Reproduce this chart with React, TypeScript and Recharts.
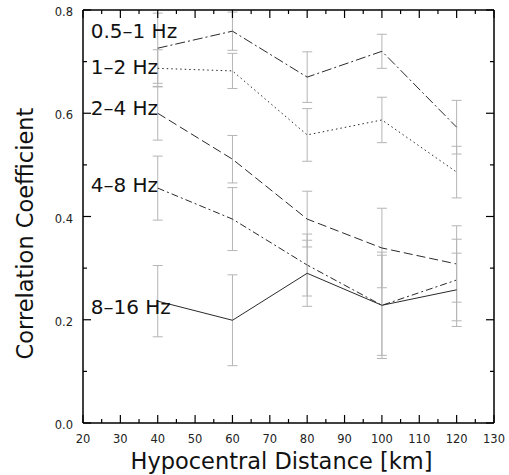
import { LineChart, Line, XAxis, YAxis, ErrorBar, LabelList } from "recharts";

// distances [km] of the five station groups
const distances = [40, 60, 80, 100, 120];

const bandNames = ["0.5–1 Hz", "1–2 Hz", "2–4 Hz", "4–8 Hz", "8–16 Hz"];

// correlation coefficient per band, and its +/- error
const band05to1 = [0.726, 0.759, 0.67, 0.72, 0.573];
const band05to1Err = [0.068, 0.037, 0.049, 0.033, 0.052];
const band1to2 = [0.687, 0.682, 0.558, 0.587, 0.486];
const band1to2Err = [0.036, 0.034, 0.051, 0.044, 0.05];
const band2to4 = [0.6, 0.511, 0.395, 0.339, 0.308];
const band2to4Err = [0.052, 0.046, 0.054, 0.077, 0.074];
const band4to8 = [0.455, 0.395, 0.306, 0.228, 0.277];
const band4to8Err = [0.062, 0.061, 0.06, 0.097, 0.079];
const band8to16 = [0.236, 0.199, 0.29, 0.228, 0.258];
const band8to16Err = [0.069, 0.088, 0.064, 0.103, 0.071];

const xTicks = [20, 25, 30, 35, 40, 45, 50, 55, 60, 65, 70, 75, 80, 85, 90, 95, 100, 105, 110, 115, 120, 125, 130];
const yTicks = [0, 0.1, 0.2, 0.3, 0.4, 0.5, 0.6, 0.7, 0.8];

const values = [band05to1, band1to2, band2to4, band4to8, band8to16];
const errors = [band05to1Err, band1to2Err, band2to4Err, band4to8Err, band8to16Err];

// line look per band (dash pattern, label nudge from first point)
const bandStyles = [
  { dash: "10 3 2 3", labelDy: -10 },
  { dash: "1.5 3", labelDy: 6 },
  { dash: "9 4", labelDy: 2 },
  { dash: "7 3 2 3", labelDy: 4 },
  { dash: undefined, labelDy: 13 },
];

const data = distances.map((d, i) => {
  const row: Record<string, number> = { x: d };
  values.forEach((v, s) => {
    row[`v${s}`] = v[i];
    row[`e${s}`] = errors[s][i];
  });
  return row;
});

const FONT = "DejaVu Sans";
const TICK = "#000";
const frame = { stroke: "#000", strokeWidth: 1.5 };

const isMajorX = (v: number) => v % 10 === 0;
const isMajorY = (v: number) => Math.round(v * 10) % 2 === 0;

// ticks point into the plot on all four sides
function BottomTick({ x, y, payload }: any) {
  const major = isMajorX(payload.value);
  return (
    <g>
      <line x1={x} y1={y} x2={x} y2={y - (major ? 8 : 4)} stroke={TICK} strokeWidth={1.2} />
      {major && (
        <text x={x} y={y + 20} textAnchor="middle" fontSize={11.5} fontFamily={FONT} fill="#222">
          {payload.value}
        </text>
      )}
    </g>
  );
}

function TopTick({ x, y, payload }: any) {
  const major = isMajorX(payload.value);
  return (
    <g>
      <line x1={x} y1={y} x2={x} y2={y + (major ? 8 : 4)} stroke={TICK} strokeWidth={1.2} />
    </g>
  );
}

function LeftTick({ x, y, payload }: any) {
  const major = isMajorY(payload.value);
  return (
    <g>
      <line x1={x} y1={y} x2={x + (major ? 8 : 4)} y2={y} stroke={TICK} strokeWidth={1.2} />
      {major && (
        <text x={x - 10} y={y + 6} textAnchor="end" fontSize={11.5} fontFamily={FONT} fill="#222">
          {payload.value.toFixed(1)}
        </text>
      )}
    </g>
  );
}

function RightTick({ x, y, payload }: any) {
  const major = isMajorY(payload.value);
  return (
    <g>
      <line x1={x} y1={y} x2={x - (major ? 8 : 4)} y2={y} stroke={TICK} strokeWidth={1.2} />
    </g>
  );
}

const bandLabel = (s: number) => (props: any) => {
  if (props.index !== 0) return null;
  return (
    <text
      x={props.x - 67}
      y={props.y + bandStyles[s].labelDy}
      fontSize={20}
      fontFamily={FONT}
      fill="#111"
    >
      {bandNames[s]}
    </text>
  );
};

export default function App() {
  return (
    <div style={{ position: "absolute", left: 0, top: 0 }}>
      <LineChart width={509} height={475} data={data} margin={{ top: 0, right: 0, bottom: 0, left: 0 }}>
        <XAxis
          xAxisId="b"
          dataKey="x"
          type="number"
          domain={[20, 130]}
          ticks={xTicks}
          interval={0}
          allowDataOverflow
          height={52}
          tickSize={0}
          tickMargin={0}
          tickLine={false}
          axisLine={frame}
          tick={(p: any) => <BottomTick {...p} />}
          label={{
            content: (p: any) => (
              <text
                x={p.viewBox.x + p.viewBox.width / 2 - 7}
                y={469}
                textAnchor="middle"
                fontSize={22.5}
                fontFamily={FONT}
                fill="#111"
              >
                Hypocentral Distance [km]
              </text>
            ),
          }}
        />
        <XAxis
          xAxisId="t"
          orientation="top"
          dataKey="x"
          type="number"
          domain={[20, 130]}
          ticks={xTicks}
          interval={0}
          allowDataOverflow
          height={10}
          tickSize={0}
          tickMargin={0}
          tickLine={false}
          axisLine={frame}
          tick={(p: any) => <TopTick {...p} />}
        />
        <YAxis
          yAxisId="l"
          type="number"
          domain={[0, 0.8]}
          ticks={yTicks}
          interval={0}
          allowDataOverflow
          width={83}
          tickSize={0}
          tickMargin={0}
          tickLine={false}
          axisLine={frame}
          tick={(p: any) => <LeftTick {...p} />}
          label={{
            content: (p: any) => {
              const cx = 33;
              const cy = p.viewBox.y + p.viewBox.height / 2 + 17;
              return (
                <text
                  x={cx}
                  y={cy}
                  transform={`rotate(-90, ${cx}, ${cy})`}
                  textAnchor="middle"
                  fontSize={22.5}
                  fontFamily={FONT}
                  fill="#111"
                >
                  Correlation Coefficient
                </text>
              );
            },
          }}
        />
        <YAxis
          yAxisId="r"
          orientation="right"
          type="number"
          domain={[0, 0.8]}
          ticks={yTicks}
          interval={0}
          allowDataOverflow
          width={15}
          tickSize={0}
          tickMargin={0}
          tickLine={false}
          axisLine={frame}
          tick={(p: any) => <RightTick {...p} />}
        />
        {bandNames.map((name, s) => (
          <Line
            key={name}
            xAxisId="b"
            yAxisId="l"
            dataKey={`v${s}`}
            name={name}
            stroke="#2a2a2a"
            strokeWidth={1}
            strokeDasharray={bandStyles[s].dash}
            dot={false}
            activeDot={false}
            isAnimationActive={false}
          >
            <ErrorBar dataKey={`e${s}`} width={5} stroke="#b5b5b5" strokeWidth={1} direction="y" />
            <LabelList dataKey={`v${s}`} content={bandLabel(s)} />
          </Line>
        ))}
      </LineChart>
    </div>
  );
}
